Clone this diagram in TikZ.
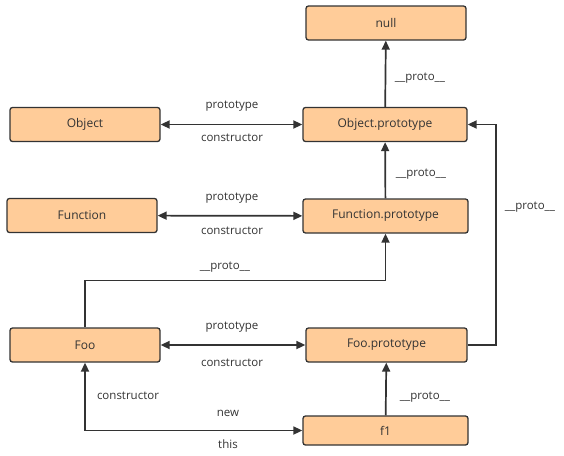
\documentclass[tikz,border=0pt]{standalone}
\usepackage{fontspec}
\setmainfont{Open Sans}
\usetikzlibrary{arrows.meta}
\definecolor{boxfill}{HTML}{FFCC99}
\definecolor{ink}{HTML}{333333}
\begin{document}
\begin{tikzpicture}[x=1pt,y=-1pt,
  obj/.style={draw=ink,fill=boxfill,line width=1.3pt,rounded corners=2.5pt,
    minimum height=34pt,inner sep=0pt,font=\fontsize{12}{14}\selectfont,text=ink},
  conn/.style={draw=ink,line width=1.7pt,-{Triangle[length=9pt,width=8pt]}},
  bi/.style={draw=ink,line width=1.7pt,{Triangle[length=9pt,width=8pt]}-{Triangle[length=9pt,width=8pt]}},
  lbl/.style={font=\fontsize{11.5}{13}\selectfont,text=ink,inner sep=0pt}]
\useasboundingbox (0,0) rectangle (564,455);
\node[obj,minimum width=160pt] (null) at (386,23) {null};
\node[obj,minimum width=164pt] (op) at (385,124.5) {Object.prototype};
\node[obj,minimum width=150pt] (obj) at (85,124.5) {Object};
\node[obj,minimum width=150pt] (fn) at (82,215.5) {Function};
\node[obj,minimum width=165pt] (fp) at (385.5,216) {Function.prototype};
\node[obj,minimum width=150pt] (foo) at (85,345) {Foo};
\node[obj,minimum width=161pt] (foop) at (386.5,345) {Foo.prototype};
\node[obj,minimum width=165pt,minimum height=29pt] (f1) at (385.5,430.5) {f1};

\draw[conn] (op) -- (null);
\node[lbl] (l1) at (420,78) {\_\_proto\_\_};
\draw[bi] (obj) -- (op);
\node[lbl] (l2) at (232,106) {prototype};
\node[lbl] (l3) at (232,138) {constructor};
\draw[conn] (fp) -- (op);
\node[lbl] (l4) at (421,174) {\_\_proto\_\_};
\draw[bi] (fn) -- (fp);
\node[lbl] (l5) at (232,198) {prototype};
\node[lbl] (l6) at (232,231) {constructor};
\draw[conn] (foo.north) -- ++(0,-47) -| (fp.south);
\node[lbl] (l7) at (225,267) {\_\_proto\_\_};
\draw[conn] (foop.east) -- ++(28,0) |- (op.east);
\node[lbl] (l8) at (530,207) {\_\_proto\_\_};
\draw[bi] (foo) -- (foop);
\node[lbl] (l9) at (232,327) {prototype};
\node[lbl] (l10) at (232,363) {constructor};
\draw[conn] (f1) -- (foop);
\node[lbl] (l11) at (425,397) {\_\_proto\_\_};
\draw[bi] (foo.south) |- (f1.west);
\node[lbl] (l12) at (128,396) {constructor};
\node[lbl] (l13) at (228,413) {new};
\node[lbl] (l14) at (228,444) {this};
\end{tikzpicture}
\end{document}
